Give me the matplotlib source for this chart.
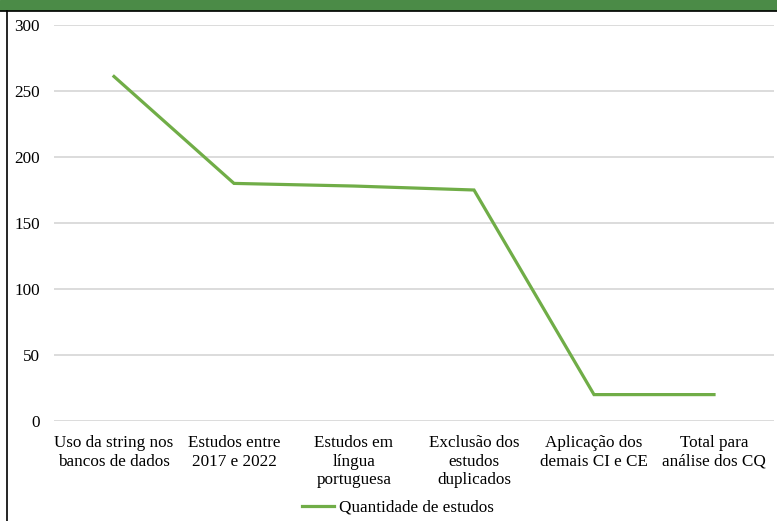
import matplotlib
matplotlib.use('Agg')
import matplotlib.pyplot as plt
from matplotlib.patches import Rectangle
from matplotlib.lines import Line2D

etapas = ['Uso da string nos\nbancos de dados', 'Estudos entre\n2017 e 2022',
          'Estudos em\nlíngua\nportuguesa', 'Exclusão dos\nestudos\nduplicados',
          'Aplicação dos\ndemais CI e CE', 'Total para\nanálise dos CQ']
quantidade = [261, 180, 178, 175, 20, 20]
serie = 'Quantidade de estudos'

plt.rcParams['font.family'] = ['Liberation Serif', 'DejaVu Serif']

fig = plt.figure(figsize=(7.77, 5.21), dpi=100)
ax = fig.add_axes([54/777, 100/521, 720/777, 396/521])

x = list(range(len(etapas)))
ax.plot(x, quantidade, color='#70ad47', lw=2.3, solid_joinstyle='miter', label=serie)

ax.set_xlim(-0.5, len(etapas) - 0.5)
ax.set_ylim(0, 300)
ax.set_yticks(range(0, 301, 50))
ax.set_xticks(x)
ax.set_xticklabels(etapas, fontsize=12.3, linespacing=1.22)
ax.tick_params(axis='y', labelsize=12.3, length=0, pad=10)
ax.tick_params(axis='x', length=0, pad=10)
ax.grid(axis='y', color='#d9d9d9', lw=1.3)
ax.set_axisbelow(True)
for s in ax.spines.values():
    s.set_visible(False)

# moldura da imagem original (faixa verde e borda)
fig.patches.append(Rectangle((0, 1 - 10/521), 1, 10/521, transform=fig.transFigure,
                             color='#4b8b47', zorder=0))
fig.lines.append(Line2D([0, 1], [1 - 10.5/521] * 2, transform=fig.transFigure,
                        color='black', lw=1.2))
fig.lines.append(Line2D([6.5/777] * 2, [0, 1 - 10.5/521], transform=fig.transFigure,
                        color='black', lw=1.2))

fig.legend(loc='center', bbox_to_anchor=(398/777, 1 - 508/521), frameon=False,
           fontsize=12.3, handlelength=1.9, handletextpad=0.3)

fig.savefig('out.png', dpi=100)
